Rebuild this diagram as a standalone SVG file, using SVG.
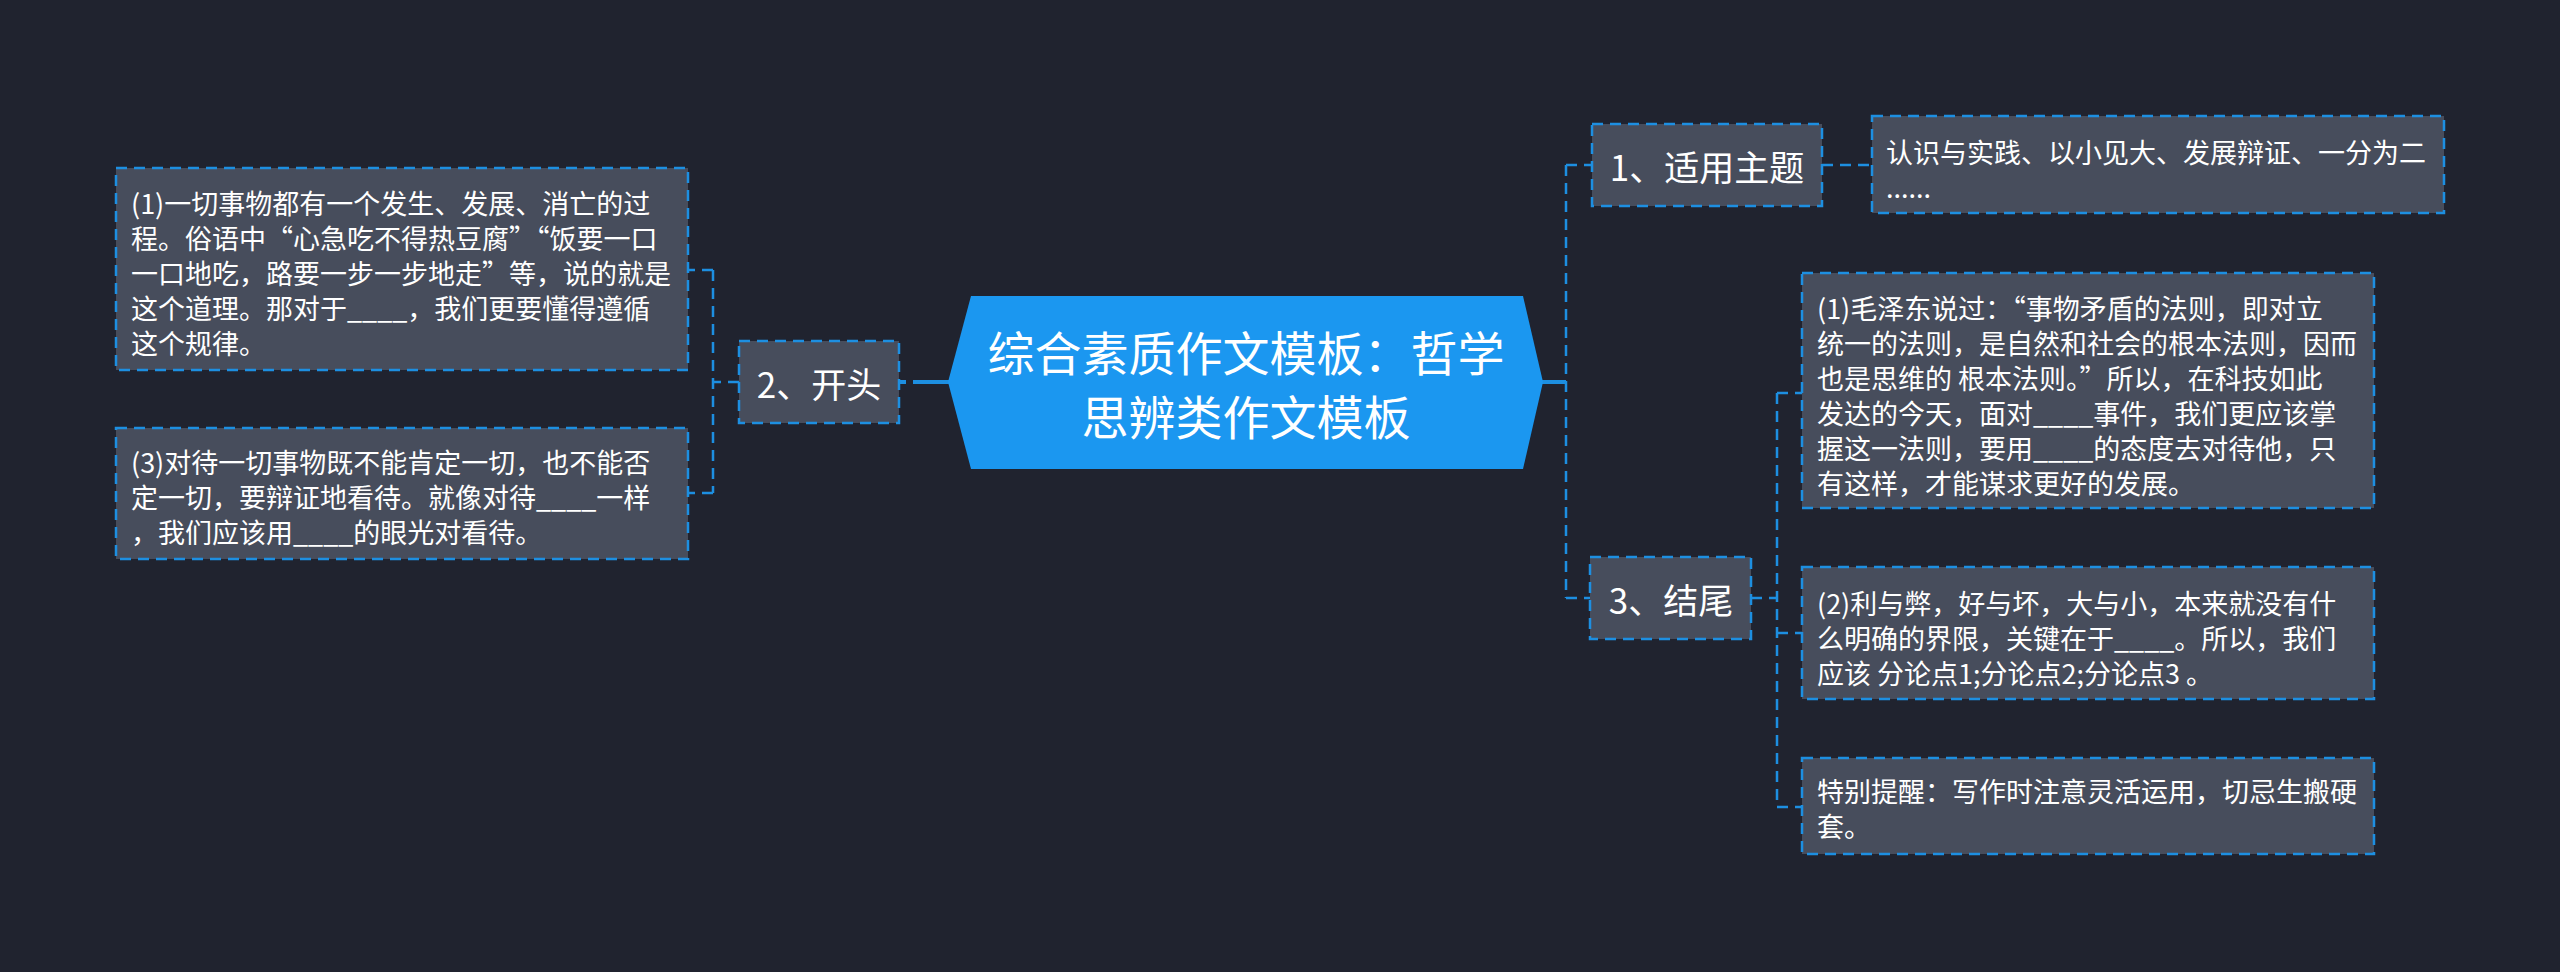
<svg xmlns="http://www.w3.org/2000/svg" width="2560" height="972" viewBox="0 0 2560 972">
<style>
.bg{fill:#20232f}
.box{fill:#474d5c;stroke:#1d8fe1;stroke-width:2.5;stroke-dasharray:11 7}
.c{fill:none;stroke:#1d8fe1;stroke-width:2.5;stroke-dasharray:11 7}
.s{fill:none;stroke:#1d8fe1;stroke-width:4}
text{font-family:"Noto Sans CJK SC","Noto Sans",sans-serif;fill:#ffffff;dominant-baseline:central}
.t0{font-size:47px;text-anchor:middle}
.t1{font-size:35px;text-anchor:middle}
.t2{font-size:27px}
</style>
<rect class="bg" x="0" y="0" width="2560" height="972"/>
<g id="connectors">
<path class="s" d="M899 382H906M913 382H950"/>
<path class="s" d="M1541 382H1566"/>
<path class="c" d="M739 382H713M713 270V493M713 270H688M713 493H688"/>
<path class="c" d="M1566 165V598M1566 165H1592M1566 598H1590"/>
<path class="c" d="M1822 165H1872"/>
<path class="c" d="M1751 598H1777M1777 393V807M1777 393H1802M1777 633H1802M1777 807H1802"/>
</g>
<g id="root">
<polygon points="948,382 971,296 1523,296 1543,382 1523,469 971,469" fill="#1b97f0"/>
<text class="t0" x="1246" y="350">综合素质作文模板：哲学</text>
<text class="t0" x="1246" y="414">思辨类作文模板</text>
</g>
<g id="n-open">
<rect class="box" x="739" y="341" width="160" height="82"/>
<text class="t1" x="819" y="382">2、开头</text>
</g>
<g id="n-open-1">
<rect class="box" x="116" y="168" width="572" height="202"/>
<text class="t2" x="131" y="202">(1)一切事物都有一个发生、发展、消亡的过</text>
<text class="t2" x="131" y="237">程。俗语中“心急吃不得热豆腐”“饭要一口</text>
<text class="t2" x="131" y="272">一口地吃，路要一步一步地走”等，说的就是</text>
<text class="t2" x="131" y="307">这个道理。那对于____，我们更要懂得遵循</text>
<text class="t2" x="131" y="342">这个规律。</text>
</g>
<g id="n-open-3">
<rect class="box" x="116" y="428" width="572" height="131"/>
<text class="t2" x="131" y="461">(3)对待一切事物既不能肯定一切，也不能否</text>
<text class="t2" x="131" y="496">定一切，要辩证地看待。就像对待____一样</text>
<text class="t2" x="131" y="531">，我们应该用____的眼光对看待。</text>
</g>
<g id="n-theme">
<rect class="box" x="1592" y="124" width="230" height="82"/>
<text class="t1" x="1707" y="165">1、适用主题</text>
</g>
<g id="n-theme-1">
<rect class="box" x="1872" y="116" width="572" height="97"/>
<text class="t2" x="1886" y="151">认识与实践、以小见大、发展辩证、一分为二</text>
<text class="t2" x="1886" y="186">......</text>
</g>
<g id="n-end">
<rect class="box" x="1590" y="557" width="161" height="82"/>
<text class="t1" x="1671" y="598">3、结尾</text>
</g>
<g id="n-end-1">
<rect class="box" x="1802" y="273" width="572" height="235"/>
<text class="t2" x="1817" y="307">(1)毛泽东说过：“事物矛盾的法则，即对立</text>
<text class="t2" x="1817" y="342">统一的法则，是自然和社会的根本法则，因而</text>
<text class="t2" x="1817" y="377">也是思维的 根本法则。”所以，在科技如此</text>
<text class="t2" x="1817" y="412">发达的今天，面对____事件，我们更应该掌</text>
<text class="t2" x="1817" y="447">握这一法则，要用____的态度去对待他，只</text>
<text class="t2" x="1817" y="482">有这样，才能谋求更好的发展。</text>
</g>
<g id="n-end-2">
<rect class="box" x="1802" y="567" width="572" height="132"/>
<text class="t2" x="1817" y="602">(2)利与弊，好与坏，大与小，本来就没有什</text>
<text class="t2" x="1817" y="637">么明确的界限，关键在于____。所以，我们</text>
<text class="t2" x="1817" y="672">应该 分论点1;分论点2;分论点3 。</text>
</g>
<g id="n-end-3">
<rect class="box" x="1802" y="758" width="572" height="96"/>
<text class="t2" x="1817" y="790">特别提醒：写作时注意灵活运用，切忌生搬硬</text>
<text class="t2" x="1817" y="825">套。</text>
</g>
</svg>
